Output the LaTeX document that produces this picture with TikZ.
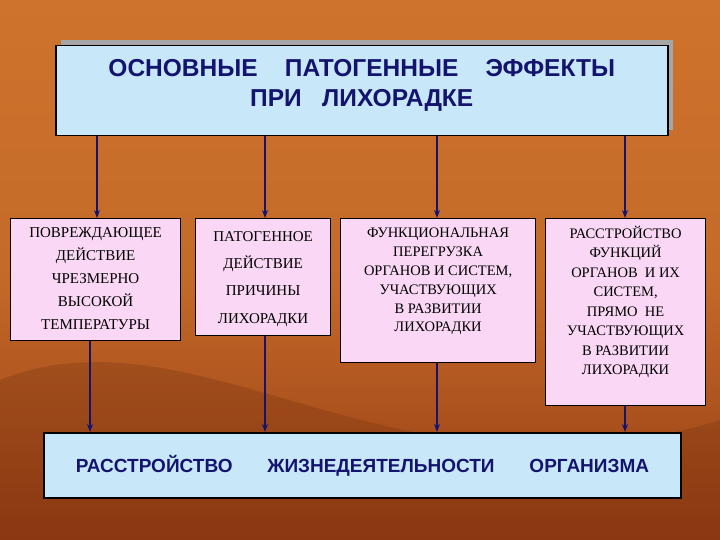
\documentclass[tikz,border=0pt]{standalone}
\usepackage{fontspec}
\setmainfont{Liberation Serif}
\newfontfamily\arialf{Liberation Sans}
\usetikzlibrary{arrows.meta}
\definecolor{navy}{RGB}{20,20,110}
\definecolor{lblue}{RGB}{200,232,250}
\definecolor{lpink}{RGB}{250,215,245}
\definecolor{bgA}{RGB}{150,60,20}
\definecolor{bgB}{RGB}{205,115,45}
\tikzset{
  box/.style={draw=black, line width=1.2pt, fill=lpink, anchor=north west, inner sep=0pt},
  txt/.style={anchor=north, align=center, text=black, inner sep=0pt},
  bluebox/.style={draw=black, line width=1.5pt, fill=lblue, anchor=north west, inner sep=0pt},
  btxt/.style={anchor=north, align=center, text=navy, inner sep=0pt},
  arr/.style={-{Stealth[length=8pt,width=6pt]}, navy, line width=1.3pt}
}
\begin{document}
\begin{tikzpicture}[x=1pt,y=-1pt]
\useasboundingbox (0,0) rectangle (720,540);
\shade[top color=bgB, bottom color=bgA, middle color=bgB!85!bgA] (0,0) rectangle (720,540);
\fill[bgA!70!black, opacity=0.25] (0,380) .. controls (200,300) and (400,520) .. (720,420) -- (720,540) -- (0,540) -- cycle;
% title
\fill[gray!70] (61,40) rectangle (673,130);
\node[bluebox, minimum width=612pt, minimum height=90pt] (t) at (55,45) {};
\node[btxt, font=\arialf\bfseries\fontsize{24.5}{30}\selectfont] (tt) at ([yshift=-14pt]t.north) {ОСНОВНЫЕ\ \ \ \ ПАТОГЕННЫЕ\ \ \ \ ЭФФЕКТЫ\\ПРИ\ \ \ ЛИХОРАДКЕ};
% boxes
\node[box, minimum width=170pt, minimum height=122pt] (b1) at (10,218) {};
\node[txt, font=\fontsize{15}{23}\selectfont] (t1) at ([yshift=-9pt]b1.north) {ПОВРЕЖДАЮЩЕЕ\\ДЕЙСТВИЕ\\ЧРЕЗМЕРНО\\ВЫСОКОЙ\\ТЕМПЕРАТУРЫ};
\node[box, minimum width=135pt, minimum height=117pt] (b2) at (195,218) {};
\node[txt, font=\fontsize{15}{27.3}\selectfont] (t2) at ([yshift=-13pt]b2.north) {ПАТОГЕННОЕ\\ДЕЙСТВИЕ\\ПРИЧИНЫ\\ЛИХОРАДКИ};
\node[box, minimum width=195pt, minimum height=144pt] (b3) at (340,218) {};
\node[txt, font=\fontsize{14.5}{18.8}\selectfont] (t3) at ([yshift=-10pt]b3.north) {ФУНКЦИОНАЛЬНАЯ\\ПЕРЕГРУЗКА\\ОРГАНОВ И СИСТЕМ,\\УЧАСТВУЮЩИХ\\В РАЗВИТИИ\\ЛИХОРАДКИ};
\node[box, minimum width=160pt, minimum height=187pt] (b4) at (545,218) {};
\node[txt, font=\fontsize{14.5}{19.5}\selectfont] (t4) at ([yshift=-8pt]b4.north) {РАССТРОЙСТВО\\ФУНКЦИЙ\\ОРГАНОВ\ \ И ИХ\\СИСТЕМ,\\ПРЯМО\ \ НЕ\\УЧАСТВУЮЩИХ\\В РАЗВИТИИ\\ЛИХОРАДКИ};
\node[bluebox, line width=2pt, minimum width=637pt, minimum height=65pt, align=center, text=navy, font=\arialf\bfseries\fontsize{19}{22}\selectfont] (bt) at (43,432) {РАССТРОЙСТВО\quad\ \ \ ЖИЗНЕДЕЯТЕЛЬНОСТИ\quad\ \ \ ОРГАНИЗМА};
% arrows
\coordinate (x1) at (97,0); \coordinate (x2) at (265,0); \coordinate (x3) at (437,0); \coordinate (x4) at (625,0);
\coordinate (y1) at (90,0);
\draw[arr] (t.south -| x1) -- (b1.north -| x1);
\draw[arr] (t.south -| x2) -- (b2.north -| x2);
\draw[arr] (t.south -| x3) -- (b3.north -| x3);
\draw[arr] (t.south -| x4) -- (b4.north -| x4);
\draw[arr] (b1.south -| y1) -- (bt.north -| y1);
\draw[arr] (b2.south -| x2) -- (bt.north -| x2);
\draw[arr] (b3.south -| x3) -- (bt.north -| x3);
\draw[arr] (b4.south -| x4) -- (bt.north -| x4);
\end{tikzpicture}
\end{document}
